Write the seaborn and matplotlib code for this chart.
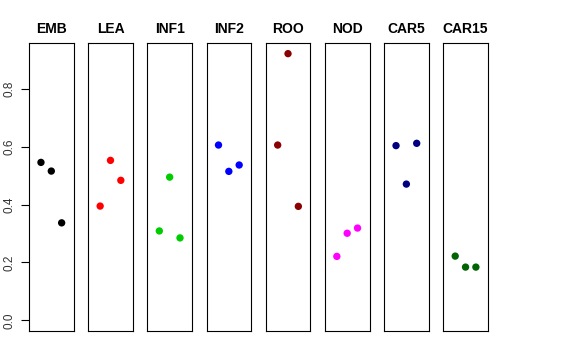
import numpy as np
import pandas as pd
import matplotlib
matplotlib.use("Agg")
import matplotlib.pyplot as plt
import seaborn as sns

panels = ["EMB", "LEA", "INF1", "INF2", "ROO", "NOD", "CAR5", "CAR15"]
colors = ["#000000", "#FF0000", "#00CD00", "#0000FF", "#8B0000", "#FF00FF", "#000080", "#006400"]
emb = [0.546, 0.516, 0.337]
lea = [0.395, 0.553, 0.484]
inf1 = [0.309, 0.495, 0.285]
inf2 = [0.606, 0.515, 0.537]
roo = [0.606, 0.922, 0.394]
nod = [0.221, 0.301, 0.319]
car5 = [0.604, 0.471, 0.612]
car15 = [0.222, 0.184, 0.184]
values = [emb, lea, inf1, inf2, roo, nod, car5, car15]
yticks = [0.0, 0.2, 0.4, 0.6, 0.8]

sns.set_style("white")
plt.rcParams["font.family"] = ["Liberation Sans", "DejaVu Sans"]
plt.rcParams["text.color"] = "black"
plt.rcParams["ytick.color"] = "black"
plt.rcParams["ytick.labelcolor"] = "#333333"

fig, axes = plt.subplots(1, 8, figsize=(5.76, 3.6), dpi=100, sharey=True)
fig.subplots_adjust(left=0.0503, right=0.847, top=0.8806, bottom=0.0806, wspace=0.325)

ymax = max(max(v) for v in values)
ext = ymax * 0.04

for i, ax in enumerate(axes):
    df = pd.DataFrame({"x": [1, 2, 3], "y": values[i]})
    sns.scatterplot(data=df, x="x", y="y", ax=ax, color=colors[i], s=28,
                    edgecolor="none", linewidth=0)
    ax.set_xlim(-0.16, 4.16)
    ax.set_ylim(-ext, ymax + ext)
    ax.set_xticks([])
    ax.set_xlabel("")
    ax.set_ylabel("")
    ax.set_title(panels[i], fontsize=10, fontweight="bold", pad=7, color="black")
    for sp in ax.spines.values():
        sp.set_visible(True)
        sp.set_color("black")
        sp.set_linewidth(0.8)
    if i == 0:
        ax.set_yticks(yticks)
        ax.set_yticklabels([f"{t:.1f}" for t in yticks], rotation=90, va="center", fontsize=8.5)
        ax.tick_params(axis="y", left=True, length=5.5, width=0.8, pad=4)
    else:
        ax.tick_params(axis="y", left=False, labelleft=False)

fig.savefig("out.png", dpi=100)
